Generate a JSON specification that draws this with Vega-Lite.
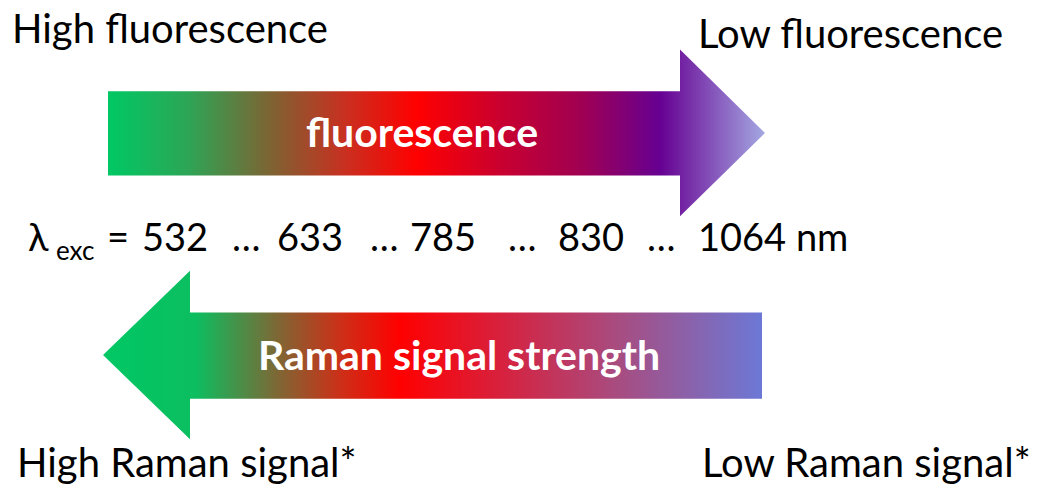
{
  "$schema": "https://vega.github.io/schema/vega-lite/v6.json",
  "width": 1039,
  "height": 485,
  "autosize": {"type": "fit", "contains": "padding"},
  "padding": 0,
  "background": "white",
  "config": {"view": {"stroke": null}},
  "datasets": {
    "topArrow": [
      {"x": 108, "y": 92, "y2": 177},
      {"x": 680, "y": 92, "y2": 177},
      {"x": 680, "y": 50, "y2": 218},
      {"x": 765, "y": 134, "y2": 134}
    ],
    "bottomArrow": [
      {"x": 103, "y": 358, "y2": 358},
      {"x": 190, "y": 273, "y2": 443},
      {"x": 190, "y": 315, "y2": 402},
      {"x": 762, "y": 315, "y2": 402}
    ],
    "labels": [
      {"x": 12, "y": 43, "label": "High fluorescence"},
      {"x": 698, "y": 48, "label": "Low fluorescence"},
      {"x": 17, "y": 481, "label": "High Raman signal*"},
      {"x": 702, "y": 481, "label": "Low Raman signal*"}
    ],
    "lambda": [
      {"x": 28, "y": 253, "label": "λ"},
      {"x": 107, "y": 253, "label": "="},
      {"x": 142, "y": 253, "label": "532"},
      {"x": 232, "y": 253, "label": "…"},
      {"x": 277, "y": 253, "label": "633"},
      {"x": 370, "y": 253, "label": "…"},
      {"x": 410, "y": 253, "label": "785"},
      {"x": 508, "y": 253, "label": "…"},
      {"x": 558, "y": 253, "label": "830"},
      {"x": 647, "y": 253, "label": "…"},
      {"x": 698, "y": 253, "label": "1064 nm"}
    ],
    "subscript": [
      {"x": 56, "y": 262, "label": "exc"}
    ],
    "arrowText": [
      {"x": 422, "y": 148, "label": "fluorescence"},
      {"x": 459, "y": 373, "label": "Raman signal strength"}
    ]
  },
  "layer": [
    {
      "data": {"name": "topArrow"},
      "mark": {
        "type": "area",
        "fill": {
          "gradient": "linear", "x1": 0, "y1": 0, "x2": 1, "y2": 0,
          "stops": [
            {"offset": 0, "color": "#00c864"},
            {"offset": 0.12, "color": "#2ca656"},
            {"offset": 0.25, "color": "#7f6232"},
            {"offset": 0.36, "color": "#c83020"},
            {"offset": 0.47, "color": "#ff0000"},
            {"offset": 0.6, "color": "#c80030"},
            {"offset": 0.72, "color": "#a00052"},
            {"offset": 0.84, "color": "#660092"},
            {"offset": 1, "color": "#a4a8e2"}
          ]
        }
      },
      "encoding": {
        "x": {"field": "x", "type": "quantitative", "scale": {"domain": [0, 1039]}, "axis": null},
        "y": {"field": "y", "type": "quantitative", "scale": {"domain": [0, 485], "reverse": true}, "axis": null},
        "y2": {"field": "y2"}
      }
    },
    {
      "data": {"name": "bottomArrow"},
      "mark": {
        "type": "area",
        "fill": {
          "gradient": "linear", "x1": 0, "y1": 0, "x2": 1, "y2": 0,
          "stops": [
            {"offset": 0, "color": "#00c864"},
            {"offset": 0.14, "color": "#0cbe60"},
            {"offset": 0.26, "color": "#7a6a36"},
            {"offset": 0.36, "color": "#cc3018"},
            {"offset": 0.45, "color": "#ff0000"},
            {"offset": 0.6, "color": "#d8203c"},
            {"offset": 0.78, "color": "#a84c80"},
            {"offset": 1, "color": "#6c78d6"}
          ]
        }
      },
      "encoding": {
        "x": {"field": "x", "type": "quantitative", "scale": {"domain": [0, 1039]}, "axis": null},
        "y": {"field": "y", "type": "quantitative", "scale": {"domain": [0, 485], "reverse": true}, "axis": null},
        "y2": {"field": "y2"}
      }
    },
    {
      "data": {"name": "labels"},
      "mark": {"type": "text", "align": "left", "baseline": "alphabetic", "font": "Lato", "fontSize": 40, "color": "black"},
      "encoding": {
        "x": {"field": "x", "type": "quantitative", "scale": {"domain": [0, 1039]}, "axis": null},
        "y": {"field": "y", "type": "quantitative", "scale": {"domain": [0, 485], "reverse": true}, "axis": null},
        "text": {"field": "label"}
      }
    },
    {
      "data": {"name": "lambda"},
      "mark": {"type": "text", "align": "left", "baseline": "alphabetic", "font": "Lato", "fontSize": 38, "color": "black"},
      "encoding": {
        "x": {"field": "x", "type": "quantitative", "scale": {"domain": [0, 1039]}, "axis": null},
        "y": {"field": "y", "type": "quantitative", "scale": {"domain": [0, 485], "reverse": true}, "axis": null},
        "text": {"field": "label"}
      }
    },
    {
      "data": {"name": "subscript"},
      "mark": {"type": "text", "align": "left", "baseline": "alphabetic", "font": "Lato", "fontSize": 26, "color": "black"},
      "encoding": {
        "x": {"field": "x", "type": "quantitative", "scale": {"domain": [0, 1039]}, "axis": null},
        "y": {"field": "y", "type": "quantitative", "scale": {"domain": [0, 485], "reverse": true}, "axis": null},
        "text": {"field": "label"}
      }
    },
    {
      "data": {"name": "arrowText"},
      "mark": {"type": "text", "align": "center", "baseline": "alphabetic", "font": "Lato", "fontWeight": "bold", "fontSize": 41, "color": "white"},
      "encoding": {
        "x": {"field": "x", "type": "quantitative", "scale": {"domain": [0, 1039]}, "axis": null},
        "y": {"field": "y", "type": "quantitative", "scale": {"domain": [0, 485], "reverse": true}, "axis": null},
        "text": {"field": "label"}
      }
    }
  ]
}
